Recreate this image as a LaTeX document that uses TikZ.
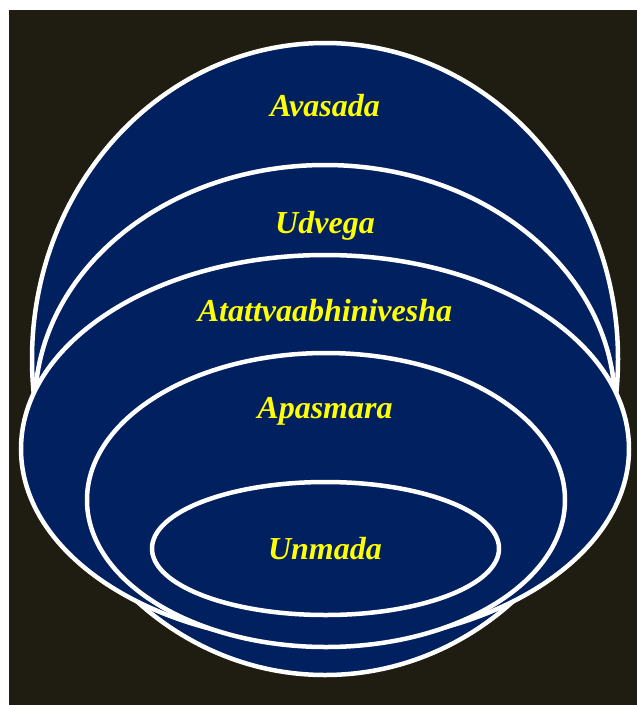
\documentclass[tikz,border=0pt]{standalone}
\usepackage{fontspec}
\setmainfont{Liberation Serif}
\definecolor{bgdark}{RGB}{31,29,18}
\definecolor{navy}{RGB}{0,32,96}
\definecolor{lbl}{RGB}{255,255,0}
\begin{document}
\begin{tikzpicture}[x=1pt,y=-1pt,
  ring/.style={draw=white,line width=4.5pt,fill=navy},
  lab/.style={text=lbl,anchor=base,inner sep=0pt,font=\fontsize{32}{32}\selectfont\bfseries\itshape}]
\useasboundingbox (0,0) rectangle (637,705);
\fill[white] (0,0) rectangle (637,705);
\fill[bgdark] (9,10) rectangle (637,705);
\path[ring] (325,359) ellipse [x radius=293pt, y radius=316pt];
\path[ring] (325,405) ellipse [x radius=290pt, y radius=240pt];
\path[ring] (325,449) ellipse [x radius=304pt, y radius=194pt];
\path[ring] (326,500) ellipse [x radius=239pt, y radius=147pt];
\path[ring] (325.5,548.5) ellipse [x radius=173.5pt, y radius=66.5pt];
\node[lab] (avasada) at (325,116) {Avasada};
\node[lab] (udvega) at (325,233) {Udvega};
\node[lab] (atattva) at (325,321) {Atattvaabhinivesha};
\node[lab] (apasmara) at (325,418) {Apasmara};
\node[lab] (unmada) at (325,559) {Unmada};
\end{tikzpicture}
\end{document}
